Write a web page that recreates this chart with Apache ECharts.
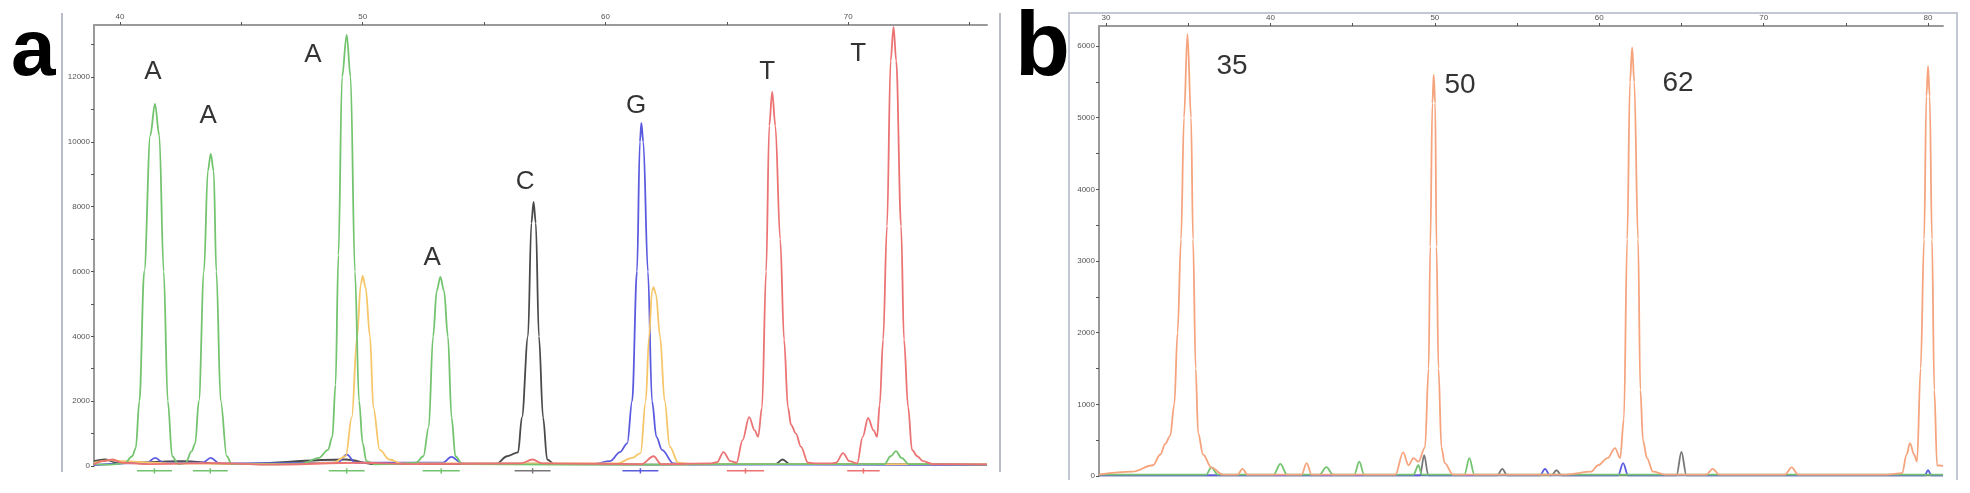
<!DOCTYPE html>
<html>
<head>
<meta charset="utf-8">
<script src="https://cdn.jsdelivr.net/npm/echarts@6/dist/echarts.min.js"></script>
<style>
  html, body { margin: 0; padding: 0; background: #fff; }
  #main { width: 1970px; height: 493px; }
</style>
</head>
<body>
<div id="main"></div>
<script>
// ---- panel a : sequencing trace (x = base position, y = signal) ----
const aTicksX = [40, 45, 50, 55, 60, 65, 70, 75];
const aLabelsX = [40, 50, 60, 70];
const aTicksY = [0, 1000, 2000, 3000, 4000, 5000, 6000, 7000, 8000, 9000, 10000, 11000, 12000, 13000];
const aLabelsY = [0, 2000, 4000, 6000, 8000, 10000, 12000];

const aGreen = [
  [38.93, 60], [39.6, 40], [40.2, 90], [40.5, 300], [40.65, 550], [40.8, 2000], [41.0, 6000],
  [41.25, 10200], [41.44, 11170], [41.62, 10200], [41.8, 6000], [41.97, 2000], [42.15, 300],
  [42.4, 60], [42.7, 90], [42.95, 450], [43.1, 700], [43.25, 2000], [43.46, 6000], [43.62, 9100],
  [43.74, 9630], [43.86, 9100], [43.97, 6000], [44.15, 2000], [44.4, 300], [44.6, 60],
  [46.0, 50], [47.5, 70], [48.2, 250], [48.57, 500], [48.75, 900], [48.88, 2500], [49.0, 6500],
  [49.15, 12000], [49.34, 13300], [49.5, 12000], [49.68, 6000], [49.85, 2000], [50.0, 700],
  [50.15, 150], [50.5, 50], [51.5, 60], [52.2, 100], [52.5, 300], [52.72, 1200], [52.9, 4000],
  [53.05, 5400], [53.2, 5830], [53.35, 5400], [53.51, 4000], [53.66, 1500], [53.82, 300],
  [54.1, 60], [58, 40], [63, 50], [67.0, 60], [71.5, 60], [71.75, 300], [71.97, 460],
  [72.2, 250], [72.5, 60], [75.72, 40]
];
const aOrange = [
  [38.93, 100], [39.6, 180], [40.0, 150], [42.0, 80], [47.0, 60], [48.8, 100], [49.3, 300],
  [49.55, 1500], [49.77, 4000], [49.92, 5600], [50.0, 5860], [50.12, 5500], [50.3, 4000],
  [50.44, 1800], [50.7, 500], [51.1, 200], [51.6, 80], [60.5, 80], [61.1, 250], [61.45, 400],
  [61.66, 2000], [61.8, 4000], [61.92, 5400], [61.98, 5520], [62.08, 5300], [62.25, 4000],
  [62.44, 2000], [62.65, 600], [63.0, 100], [63.5, 60], [75.72, 50]
];
const aBlack = [
  [38.93, 150], [39.4, 200], [39.9, 90], [41.0, 120], [42.5, 150], [44.5, 60], [49.3, 200],
  [50.5, 60], [55.5, 60], [55.95, 300], [56.4, 420], [56.56, 1500], [56.81, 4000], [56.95, 7500],
  [57.04, 8150], [57.13, 7500], [57.26, 4000], [57.43, 1500], [57.6, 200], [57.9, 60],
  [62.0, 40], [67.0, 60], [67.3, 200], [67.6, 60], [75.72, 40]
];
const aBlue = [
  [38.93, 30], [41.1, 100], [41.45, 250], [41.8, 100], [43.4, 100], [43.74, 250], [44.1, 80],
  [48.95, 100], [49.35, 350], [49.7, 100], [53.3, 100], [53.65, 280], [54.1, 80], [59.5, 60],
  [60.2, 150], [60.6, 430], [60.9, 700], [61.1, 2000], [61.3, 6000], [61.42, 10000],
  [61.48, 10585], [61.56, 10000], [61.75, 6000], [61.92, 2000], [62.1, 900], [62.33, 500],
  [62.8, 80], [63.5, 50], [75.72, 30]
];
const aRed = [
  [38.93, 50], [39.3, 150], [39.7, 200], [40.1, 100], [41.0, 60], [44.0, 90], [46.0, 40],
  [50.0, 100], [52.0, 60], [56.5, 80], [57.0, 200], [57.4, 80], [61.5, 60], [61.98, 300],
  [62.3, 60], [64.3, 80], [64.6, 120], [64.86, 430], [65.15, 150], [65.4, 100], [65.65, 800],
  [65.92, 1510], [66.15, 1100], [66.29, 900], [66.45, 1800], [66.62, 6000], [66.75, 10500],
  [66.87, 11540], [67.0, 10500], [67.2, 7000], [67.36, 3900], [67.52, 1800], [67.65, 1265],
  [67.85, 1000], [68.05, 600], [68.35, 100], [68.7, 80], [69.3, 80], [69.5, 100], [69.79, 400],
  [70.05, 150], [70.37, 80], [70.6, 900], [70.82, 1480], [71.05, 1100], [71.19, 900],
  [71.3, 1900], [71.44, 3900], [71.6, 7400], [71.75, 12500], [71.87, 13548], [71.98, 12500],
  [72.18, 7400], [72.3, 3900], [72.47, 1820], [72.63, 500], [72.85, 300], [73.08, 150],
  [73.5, 60], [75.72, 50]
];
// bin markers under the called peaks [from, to]
const aGreenBins = [[40.7, 42.14], [43.0, 44.44], [48.6, 50.08], [52.47, 54.0]];
const aBlackBins = [[56.26, 57.74]];
const aBlueBins = [[60.7, 62.18]];
const aRedBins = [[65.0, 66.54], [69.96, 71.3]];
// base calls [letter, x, y]
const aCalls = [
  ['A', 41.36, 12150], ['A', 43.63, 10800], ['A', 47.95, 12680], ['A', 52.86, 6420],
  ['C', 56.69, 8760], ['G', 61.26, 11100], ['T', 66.66, 12150], ['T', 70.41, 12710]
];

// ---- panel b ----
const bTicksX = [30, 35, 40, 45, 50, 55, 60, 65, 70, 75, 80];
const bLabelsX = [30, 40, 50, 60, 70, 80];
const bTicksY = [0, 500, 1000, 1500, 2000, 2500, 3000, 3500, 4000, 4500, 5000, 5500, 6000];
const bLabelsY = [0, 1000, 2000, 3000, 4000, 5000, 6000];

const bSalmon = [
  [29.57, 20], [31.6, 60], [32.85, 150], [33.3, 300], [33.6, 450], [33.9, 560], [34.15, 1000],
  [34.35, 2000], [34.56, 3300], [34.74, 5000], [34.95, 6170], [35.17, 5000], [35.29, 3300],
  [35.45, 1500], [35.6, 600], [35.9, 300], [36.4, 120], [37.1, 20], [38.0, 20], [38.3, 100],
  [38.6, 20], [41.9, 20], [42.2, 180], [42.5, 20], [47.6, 20], [48.07, 330], [48.4, 150],
  [48.7, 250], [49.0, 200], [49.4, 400], [49.62, 1500], [49.72, 3200], [49.85, 5200],
  [49.93, 5600], [50.02, 5200], [50.1, 3200], [50.22, 1500], [50.4, 400], [50.6, 180],
  [51.1, 20], [58.0, 20], [59.5, 60], [59.93, 150], [60.5, 250], [60.96, 390], [61.27, 250],
  [61.5, 800], [61.7, 3300], [61.87, 5500], [62.0, 5980], [62.13, 5500], [62.36, 3300],
  [62.5, 1200], [62.66, 500], [62.9, 250], [63.27, 60], [64.0, 20], [66.5, 20], [66.9, 100],
  [67.3, 20], [71.3, 20], [71.7, 120], [72.1, 20], [77.5, 20], [78.42, 40], [78.7, 300],
  [78.9, 460], [79.15, 300], [79.33, 200], [79.55, 1500], [79.76, 3300], [79.9, 5300],
  [80.0, 5720], [80.1, 5300], [80.24, 3300], [80.38, 1200], [80.55, 150], [80.91, 140]
];
const bGreen = [
  [29.57, 20], [36.1, 20], [36.4, 120], [36.8, 20], [40.2, 20], [40.6, 170], [41.0, 20], [43.0, 20],
  [43.4, 125], [43.8, 20], [45.1, 20], [45.4, 200], [45.7, 20], [48.7, 20], [49.0, 150], [49.2, 20],
  [51.8, 20], [52.1, 250], [52.4, 20], [80.91, 20]
];
const bGrey = [
  [29.57, 10], [49.1, 10], [49.35, 290], [49.6, 10], [53.8, 10], [54.1, 100], [54.4, 10], [57.1, 10],
  [57.4, 80], [57.7, 10], [64.7, 10], [65.0, 335], [65.3, 10], [80.91, 10]
];
const bBlue = [
  [29.57, 10], [56.4, 10], [56.7, 100], [57.0, 10], [61.15, 10], [61.45, 180], [61.75, 10],
  [79.8, 10], [80.0, 80], [80.2, 10], [80.91, 10]
];
const bCalls = [['35', 37.66, 5720], ['50', 51.53, 5456], ['62', 64.79, 5484]];

const C = {
  green: '#74c46f', blue: '#5b5be0', black: '#4a4a4a', orange: '#f6c66a',
  red: '#ec7373', salmon: '#f5a47e', grey: '#777'
};

const chart = echarts.init(document.getElementById('main'));

function xAxisCfg(grid, min, max, ticks, labels) {
  return {
    gridIndex: grid, type: 'value', position: 'top', min: min, max: max,
    axisLine: { show: true, onZero: false, lineStyle: { color: '#9a9a9a', width: 2 } },
    axisTick: { show: true, length: 3, customValues: ticks, lineStyle: { color: '#555' } },
    axisLabel: { customValues: labels, fontSize: 8, color: '#555', margin: 4, formatter: v => String(v) },
    splitLine: { show: false }
  };
}
function yAxisCfg(grid, max, ticks, labels) {
  return {
    gridIndex: grid, type: 'value', min: 0, max: max,
    axisLine: { show: true, onZero: false, lineStyle: { color: '#9a9a9a', width: 2 } },
    axisTick: { show: true, length: 3, customValues: ticks, lineStyle: { color: '#555' } },
    axisLabel: { customValues: labels, fontSize: 8, color: '#555', margin: 4, formatter: v => String(v) },
    splitLine: { show: false }
  };
}
function trace(data, color, xi) {
  return {
    type: 'line', xAxisIndex: xi, yAxisIndex: xi, data: data, showSymbol: false,
    smooth: 0.35, smoothMonotone: 'x', lineStyle: { color: color, width: 1.8 }, silent: true
  };
}
function bins(list, color) {
  const d = [];
  list.forEach(b => {
    const mid = (b[0] + b[1]) / 2;
    d.push([b[0], -150], [b[1], -150], ['-', '-'], [mid, -70], [mid, -230], ['-', '-']);
  });
  return {
    type: 'line', xAxisIndex: 0, yAxisIndex: 0, data: d, showSymbol: false, clip: false,
    connectNulls: false, lineStyle: { color: color, width: 1.5 }, silent: true
  };
}
function calls(list, xi, size) {
  return {
    type: 'scatter', xAxisIndex: xi, yAxisIndex: xi, symbolSize: 0, silent: true,
    data: list.map(c => ({ name: c[0], value: [c[1], c[2]] })),
    label: {
      show: true, position: 'inside', formatter: p => p.name,
      fontFamily: 'Liberation Sans, Arial, sans-serif', fontSize: size, color: '#000'
    }
  };
}

const option = {
  animation: false,
  backgroundColor: '#fff',
  grid: [
    { left: 94, top: 25, width: 893, height: 441 },
    { left: 1099, top: 26, width: 844, height: 450 }
  ],
  xAxis: [
    xAxisCfg(0, 38.93, 75.72, aTicksX, aLabelsX),
    xAxisCfg(1, 29.57, 80.91, bTicksX, bLabelsX)
  ],
  yAxis: [
    yAxisCfg(0, 13603, aTicksY, aLabelsY),
    yAxisCfg(1, 6279, bTicksY, bLabelsY)
  ],
  series: [
    trace(aBlack, C.black, 0),
    trace(aBlue, C.blue, 0),
    trace(aOrange, C.orange, 0),
    trace(aGreen, C.green, 0),
    trace(aRed, C.red, 0),
    bins(aGreenBins, C.green),
    bins(aBlackBins, C.grey),
    bins(aBlueBins, C.blue),
    bins(aRedBins, C.red),
    calls(aCalls, 0, 26),
    trace(bGrey, C.grey, 1),
    trace(bBlue, C.blue, 1),
    trace(bGreen, C.green, 1),
    trace(bSalmon, C.salmon, 1),
    calls(bCalls, 1, 28)
  ],
  graphic: [
    // panel frames
    { type: 'line', shape: { x1: 62, y1: 13, x2: 62, y2: 472 }, style: { stroke: '#b9bdc8', lineWidth: 2 } },
    { type: 'line', shape: { x1: 1000, y1: 13, x2: 1000, y2: 472 }, style: { stroke: '#b9bdc8', lineWidth: 2 } },
    { type: 'polyline', shape: { points: [[1069, 480], [1069, 13], [1957, 13], [1957, 480]] },
      style: { stroke: '#c3c7d2', lineWidth: 2, fill: null } },
    // panel letters
    { type: 'text', left: 11, top: 13, style: { text: 'a', font: 'bold 80px "Liberation Sans", Arial, sans-serif', fill: '#000' } },
    { type: 'text', left: 1015, top: 5, style: { text: 'b', font: 'bold 90px "Liberation Sans", Arial, sans-serif', fill: '#000' } }
  ]
};

chart.setOption(option);
</script>
</body>
</html>
